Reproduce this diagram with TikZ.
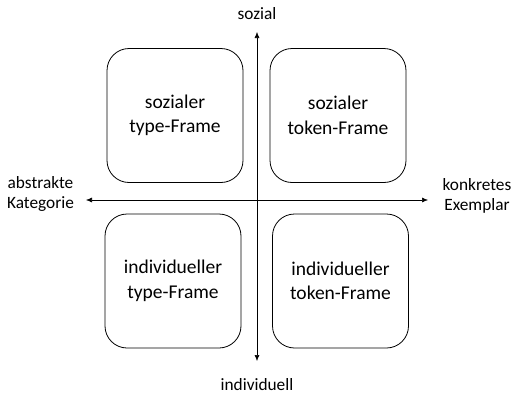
\documentclass[tikz,border=0pt]{standalone}
\usepackage{fontspec}
\setmainfont{Carlito}
\usetikzlibrary{arrows.meta}
\begin{document}
\begin{tikzpicture}[x=1pt,y=-1pt,
  frame/.style={draw=black,line width=0.8pt,rounded corners=22pt,minimum width=136pt,minimum height=134pt,align=center,font=\fontsize{19.5}{24.5}\selectfont,inner sep=0pt},
  axis/.style={draw=black,line width=0.6pt,-{Latex[length=6pt,width=5pt]}},
  lab/.style={font=\fontsize{17.3}{19.5}\selectfont,align=center,inner sep=0pt}]
\useasboundingbox (0,0) rectangle (512,399);
\coordinate (c) at (257,200);
\coordinate (top) at (257,32);
\coordinate (bot) at (257,361);
\coordinate (lft) at (86,200);
\coordinate (rgt) at (428,200);
\draw[axis] (c) -- (top);
\draw[axis] (c) -- (bot);
\draw[axis] (c) -- (lft);
\draw[axis] (c) -- (rgt);
\node[frame] (tl) at (175,115.5) {sozialer\\type-Frame};
\node[frame] (tr) at (338,115.5) {sozialer\\token-Frame};
\node[frame] (bl) at (173,281) {individueller\\type-Frame};
\node[frame] (br) at (340.5,281) {individueller\\token-Frame};
\node[lab] (soz) at (257,14) {sozial};
\node[lab] (ind) at (257,385) {individuell};
\node[lab] (abs) at (40.5,194) {abstrakte\\Kategorie};
\node[lab] (kon) at (477,196) {konkretes\\Exemplar};
\end{tikzpicture}
\end{document}
